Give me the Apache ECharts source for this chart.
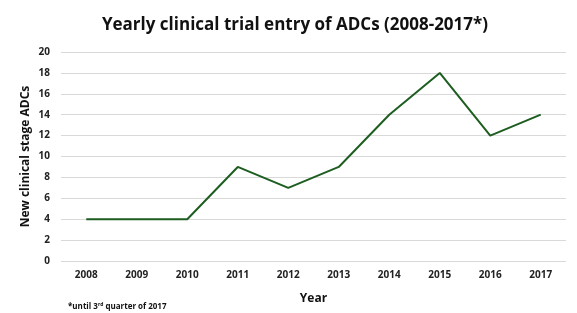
<!DOCTYPE html>
<html><head><meta charset="utf-8">
<script src="https://cdn.jsdelivr.net/npm/echarts@6/dist/echarts.min.js"></script>
<style>html,body{margin:0;padding:0;background:#fff}#c{width:577px;height:313px}</style>
</head><body><div id="c"></div>
<script>
const years = ['2008','2009','2010','2011','2012','2013','2014','2015','2016','2017'];
const newAdcs = [4,4,4,9,7,9,14,18,12,14];
const yTicks = [0,2,4,6,8,10,12,14,16,18,20];
const chart = echarts.init(document.getElementById('c'));
const F = '"Open Sans", "Noto Sans", sans-serif';
chart.setOption({
  animation:false,
  backgroundColor:'#fff',
  title:{text:'Yearly clinical trial entry of ADCs (2008-2017*)',left:290,top:12,textAlign:'center',
    textStyle:{fontFamily:F,fontSize:17,fontWeight:'bold',color:'#111'}},
  grid:{left:61,right:11,top:52,bottom:52},
  xAxis:{type:'category',data:years,boundaryGap:true,
    name:'Year',nameLocation:'middle',nameGap:32,nameMoveOverlap:false,
    nameTextStyle:{fontFamily:F,fontSize:12,fontWeight:'bold',color:'#111'},
    axisLine:{show:false},axisTick:{show:false},
    axisLabel:{fontFamily:F,fontSize:10,fontWeight:'bold',color:'#222',margin:9}},
  yAxis:{type:'value',min:yTicks[0],max:yTicks[yTicks.length-1],interval:2,
    name:'New clinical stage ADCs',nameLocation:'middle',nameGap:29,nameMoveOverlap:false,
    nameTextStyle:{fontFamily:F,fontSize:12,fontWeight:'bold',color:'#111'},
    axisLine:{show:false},axisTick:{show:false},
    axisLabel:{fontFamily:F,fontSize:10,fontWeight:'bold',color:'#222',margin:11},
    splitLine:{lineStyle:{color:'#d9d9d9',width:1}}},
  graphic:[{type:'text',left:68,top:302,style:{
    rich:{a:{fontFamily:F,fontSize:8,fontWeight:'bold',fill:'#111'},s:{fontFamily:F,fontSize:5,fontWeight:'bold',fill:'#111',verticalAlign:'top',padding:[0,0,4,0]}},
    text:'{a|*until 3}{s|rd}{a| quarter of 2017}'}}],
  series:[{type:'line',data:newAdcs,symbol:'none',lineStyle:{color:'#1d5e20',width:2}}]
});
</script></body></html>
